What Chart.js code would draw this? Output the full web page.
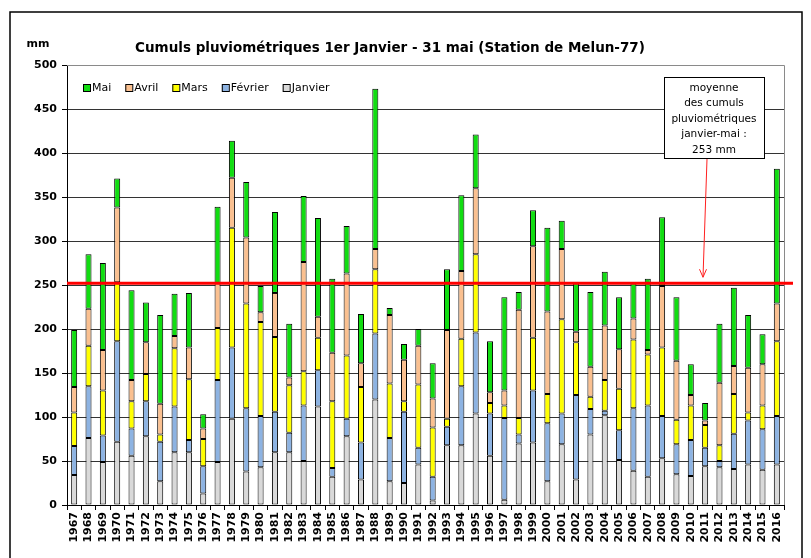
<!DOCTYPE html>
<html>
<head>
<meta charset="utf-8">
<script src="https://cdn.jsdelivr.net/npm/chart.js"></script>
<style>
body { margin: 0; background: #fff; }
</style>
</head>
<body>
<canvas id="myChart" width="811" height="558"></canvas>
<script>
// années (axe x)
const years = ['1967', '1968', '1969', '1970', '1971', '1972', '1973', '1974', '1975', '1976',
    '1977', '1978', '1979', '1980', '1981', '1982', '1983', '1984', '1985', '1986',
    '1987', '1988', '1989', '1990', '1991', '1992', '1993', '1994', '1995', '1996',
    '1997', '1998', '1999', '2000', '2001', '2002', '2003', '2004', '2005', '2006',
    '2007', '2008', '2009', '2010', '2011', '2012', '2013', '2014', '2015', '2016']

// cumuls mensuels en mm
const janvier = [34, 76, 49, 72, 56, 78, 27, 60, 60, 13,
    49, 98, 38, 43, 60, 60, 50, 112, 32, 78,
    29, 120, 27, 25, 46, 5, 68, 68, 104, 56,
    6, 70, 71, 27, 69, 29, 80, 102, 51, 39,
    32, 53, 35, 33, 44, 43, 41, 46, 40, 46]
const fevrier = [33, 59, 30, 114, 31, 40, 45, 52, 14, 31,
    93, 81, 72, 58, 46, 22, 63, 41, 10, 20,
    42, 75, 49, 81, 19, 27, 21, 67, 92, 48,
    93, 10, 59, 66, 35, 96, 29, 5, 34, 71,
    81, 48, 34, 41, 21, 7, 40, 50, 46, 55]
const mars = [38, 46, 51, 67, 31, 31, 8, 66, 69, 31,
    59, 136, 119, 107, 85, 54, 39, 37, 76, 72,
    63, 73, 62, 12, 72, 56, 9, 54, 89, 12,
    14, 19, 60, 33, 107, 60, 14, 35, 47, 78,
    58, 78, 28, 39, 26, 18, 45, 9, 27, 85]
const avril = [29, 42, 46, 85, 24, 36, 35, 14, 36, 12,
    51, 57, 75, 11, 50, 9, 124, 24, 55, 93,
    27, 23, 78, 47, 44, 33, 101, 77, 75, 12,
    17, 123, 104, 94, 80, 12, 34, 62, 45, 24,
    5, 70, 67, 12, 5, 71, 32, 51, 47, 43]
const mai = [65, 62, 99, 33, 102, 45, 101, 48, 62, 16,
    87, 42, 63, 30, 92, 61, 75, 112, 84, 54,
    56, 182, 8, 18, 19, 40, 69, 86, 61, 58,
    106, 20, 41, 95, 32, 55, 85, 61, 59, 40,
    81, 78, 72, 35, 20, 67, 89, 60, 34, 153]

const moyenne = 252
const noteLines = ['moyenne', 'des cumuls', 'pluviométriques', 'janvier-mai :', '253 mm']
const titleText = 'Cumuls pluviométriques 1er Janvier - 31 mai (Station de Melun-77)'

const FONT = '"DejaVu Sans", Verdana, sans-serif'

// dessin du cadre, titre, légende, moyenne et étiquettes
const decor = {
    id: 'decor',
    afterDraw(chart) {
        const ctx = chart.ctx
        const area = chart.chartArea
        const xs = chart.scales.x
        const ys = chart.scales.y
        ctx.save()

        // cadre extérieur
        ctx.strokeStyle = '#000'
        ctx.lineWidth = 1.5
        ctx.strokeRect(10, 12, 792, 560)

        // cadre gris de la zone de tracé
        ctx.strokeStyle = '#8a8a8a'
        ctx.lineWidth = 1
        ctx.beginPath()
        ctx.moveTo(area.left, area.top + 0.5)
        ctx.lineTo(area.right + 0.5, area.top + 0.5)
        ctx.lineTo(area.right + 0.5, area.bottom)
        ctx.stroke()

        // titre + unité
        ctx.fillStyle = '#000'
        ctx.textBaseline = 'middle'
        ctx.font = 'bold 13.5px ' + FONT
        ctx.textAlign = 'center'
        ctx.fillText(titleText, 390, 48)
        ctx.font = 'bold 11px ' + FONT
        ctx.fillText('mm', 38, 44)

        // ligne de la moyenne
        const yMoy = ys.getPixelForValue(moyenne)
        ctx.strokeStyle = '#ff0000'
        ctx.lineWidth = 3
        ctx.beginPath()
        ctx.moveTo(area.left, yMoy)
        ctx.lineTo(area.right + 9, yMoy)
        ctx.stroke()

        // années en vertical
        ctx.font = 'bold 11px ' + FONT
        ctx.textAlign = 'right'
        years.forEach((y, i) => {
            ctx.save()
            ctx.translate(xs.getPixelForValue(i), area.bottom + 7)
            ctx.rotate(-Math.PI / 2)
            ctx.fillText(y, 0, 0)
            ctx.restore()
        })

        // légende (ordre inverse)
        ctx.font = '11px ' + FONT
        ctx.textAlign = 'left'
        let lx = area.left + 16
        const ly = area.top + 23
        chart.data.datasets.slice().reverse().forEach(ds => {
            ctx.fillStyle = ds.backgroundColor
            ctx.fillRect(lx, ly - 3.5, 7, 7)
            ctx.strokeStyle = '#000'
            ctx.lineWidth = 1
            ctx.strokeRect(lx + 0.5, ly - 3.5, 7, 7)
            ctx.fillStyle = '#000'
            ctx.fillText(ds.label, lx + 9, ly)
            lx += 9 + ctx.measureText(ds.label).width + 14
        })

        // encadré de la moyenne
        const bx = 664, by = 77, bw = 100, bh = 81
        ctx.fillStyle = '#fff'
        ctx.fillRect(bx, by, bw, bh)
        ctx.strokeStyle = '#000'
        ctx.lineWidth = 1
        ctx.strokeRect(bx + 0.5, by + 0.5, bw, bh)
        ctx.fillStyle = '#000'
        ctx.font = '10.5px ' + FONT
        ctx.textAlign = 'center'
        noteLines.forEach((t, i) => {
            ctx.fillText(t, bx + bw / 2, by + 11 + i * 15.5)
        })

        // flèche
        const ax0 = 707, ay0 = by + bh + 1
        const ax1 = 703, ay1 = yMoy - 6
        ctx.strokeStyle = '#ff2020'
        ctx.lineWidth = 1
        ctx.beginPath()
        ctx.moveTo(ax0, ay0)
        ctx.lineTo(ax1, ay1)
        ctx.moveTo(ax1 - 3.5, ay1 - 8)
        ctx.lineTo(ax1, ay1)
        ctx.lineTo(ax1 + 3.5, ay1 - 8)
        ctx.stroke()

        ctx.restore()
    }
}

const makeSet = (label, data, color) => ({
    label: label,
    data: data,
    backgroundColor: color,
    borderColor: '#000',
    borderWidth: 1,
    borderSkipped: false,
    barPercentage: 0.42,
    categoryPercentage: 1
})

new Chart(document.getElementById('myChart'), {
    type: 'bar',
    data: {
        labels: years,
        datasets: [
            makeSet('Janvier', janvier, '#d9d9d9'),
            makeSet('Février', fevrier, '#8db3e2'),
            makeSet('Mars', mars, '#ffff00'),
            makeSet('Avril', avril, '#fac090'),
            makeSet('Mai', mai, '#11dd11')
        ]
    },
    options: {
        responsive: false,
        animation: false,
        layout: { padding: { top: 65, right: 27, bottom: 0, left: 0 } },
        plugins: {
            legend: { display: false },
            tooltip: { enabled: false }
        },
        scales: {
            x: {
                stacked: true,
                grid: { drawOnChartArea: false, drawTicks: true, tickLength: 5, color: '#000' },
                border: { color: '#000', width: 1 },
                ticks: { display: false },
                afterFit: (scale) => { scale.height = 53 }
            },
            y: {
                stacked: true,
                min: 0,
                max: 500,
                ticks: {
                    stepSize: 50,
                    color: '#000',
                    padding: 5,
                    font: { family: FONT, size: 11, weight: 'bold' }
                },
                grid: {
                    color: (c) => c.tick && c.tick.value === 500 ? '#8a8a8a' : '#333',
                    tickColor: '#000',
                    tickLength: 5
                },
                border: { color: '#000', width: 1 },
                afterFit: (scale) => { scale.width = 67 }
            }
        }
    },
    plugins: [decor]
})
</script>
</body>
</html>
